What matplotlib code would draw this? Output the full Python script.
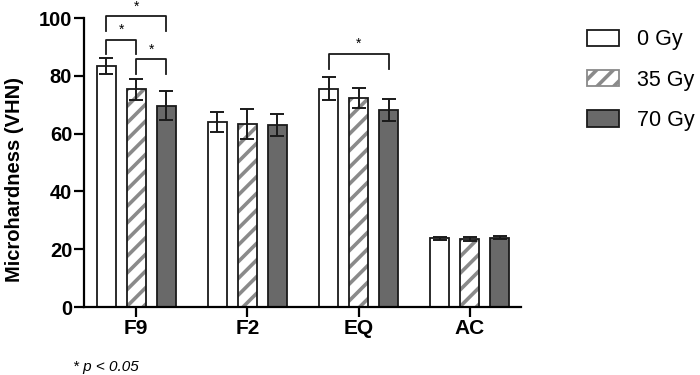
import numpy as np
import matplotlib
matplotlib.use("Agg")
import matplotlib.pyplot as plt
from matplotlib.patches import Patch

plt.rcParams["font.family"] = ["Liberation Sans", "DejaVu Sans"]
plt.rcParams["hatch.linewidth"] = 2.6

# data
groups = ["F9", "F2", "EQ", "AC"]
doses = ["0 Gy", "35 Gy", "70 Gy"]
means = {
    "0 Gy": [83.4, 64.0, 75.5, 23.8],
    "35 Gy": [75.4, 63.4, 72.3, 23.7],
    "70 Gy": [69.7, 63.0, 68.3, 24.0],
}
errs = {
    "0 Gy": [2.9, 3.6, 4.0, 0.5],
    "35 Gy": [3.6, 5.1, 3.4, 0.7],
    "70 Gy": [4.9, 3.9, 3.8, 0.5],
}
# significance brackets: (group, dose_a, dose_b, bracket height)
sig_pairs = [
    ("F9", "0 Gy", "70 Gy", 100.6),
    ("F9", "0 Gy", "35 Gy", 92.5),
    ("F9", "35 Gy", "70 Gy", 85.7),
    ("EQ", "0 Gy", "70 Gy", 87.5),
]

EDGE = "#1a1a1a"
HATCH_GREY = "#8a8a8a"
fills = {"0 Gy": "white", "35 Gy": "white", "70 Gy": "#696969"}
hatches = {"0 Gy": None, "35 Gy": "//", "70 Gy": None}

fig = plt.figure(figsize=(7, 3.75), dpi=100)
ax = fig.add_axes([0.12, 0.181, 0.624, 0.771])

x = np.arange(len(groups))
offset = 0.27
width = 0.172
pos = {}
for i, d in enumerate(doses):
    xs = x + (i - 1) * offset
    pos[d] = xs
    if hatches[d]:
        # grey stripes first, black outline on top
        ax.bar(xs, means[d], width, facecolor=fills[d], edgecolor=HATCH_GREY,
               hatch=hatches[d], linewidth=0, zorder=2)
        ax.bar(xs, means[d], width, facecolor="none", edgecolor=EDGE,
               linewidth=1.3, zorder=2.5)
    else:
        ax.bar(xs, means[d], width, facecolor=fills[d], edgecolor=EDGE,
               linewidth=1.3, zorder=2)
    ax.errorbar(xs, means[d], yerr=errs[d], fmt="none", ecolor=EDGE,
                elinewidth=1.4, capsize=5, capthick=1.4, zorder=3)

# brackets with stars
for g, a, b, h in sig_pairs:
    gi = groups.index(g)
    xa, xb = pos[a][gi], pos[b][gi]
    ax.plot([xa, xa, xb, xb], [h - 5.0, h, h, h - 5.0], color=EDGE,
            lw=1.3, clip_on=False, zorder=4)
    ax.text((xa + xb) / 2, h + 1.0, "*", ha="center", va="bottom",
            fontsize=10, clip_on=False)

ax.set_xlim(-0.47, 3.46)
ax.set_ylim(0, 100)
ax.set_yticks(np.arange(0, 101, 20))
ax.set_xticks(x)
ax.set_xticklabels(groups, fontsize=15, fontweight="bold")
for lbl in ax.get_yticklabels():
    lbl.set_fontsize(14.5)
    lbl.set_fontweight("bold")
ax.set_ylabel("Microhardness (VHN)", fontsize=14.5, fontweight="bold")
ax.yaxis.set_label_coords(-0.137, 0.44)

for s in ["top", "right"]:
    ax.spines[s].set_visible(False)
for s in ["left", "bottom"]:
    ax.spines[s].set_linewidth(1.6)
ax.tick_params(direction="out", length=7, width=1.6, pad=1.5)


def legend_handle(d):
    if hatches[d]:
        return Patch(facecolor=fills[d], edgecolor=HATCH_GREY, hatch=hatches[d],
                     linewidth=1.3, label=d)
    return Patch(facecolor=fills[d], edgecolor=EDGE, linewidth=1.3, label=d)


handles = [legend_handle(d) for d in doses]
fig.legend(handles=handles, loc="upper left", bbox_to_anchor=(0.8386, 0.922),
           frameon=False, fontsize=15.5, handlelength=1.5, handleheight=0.8,
           handletextpad=0.8, labelspacing=0.9, borderpad=0, borderaxespad=0)

fig.text(0.104, 0.012, "* p < 0.05", fontsize=11, style="italic")

fig.savefig("out.png", dpi=100)
